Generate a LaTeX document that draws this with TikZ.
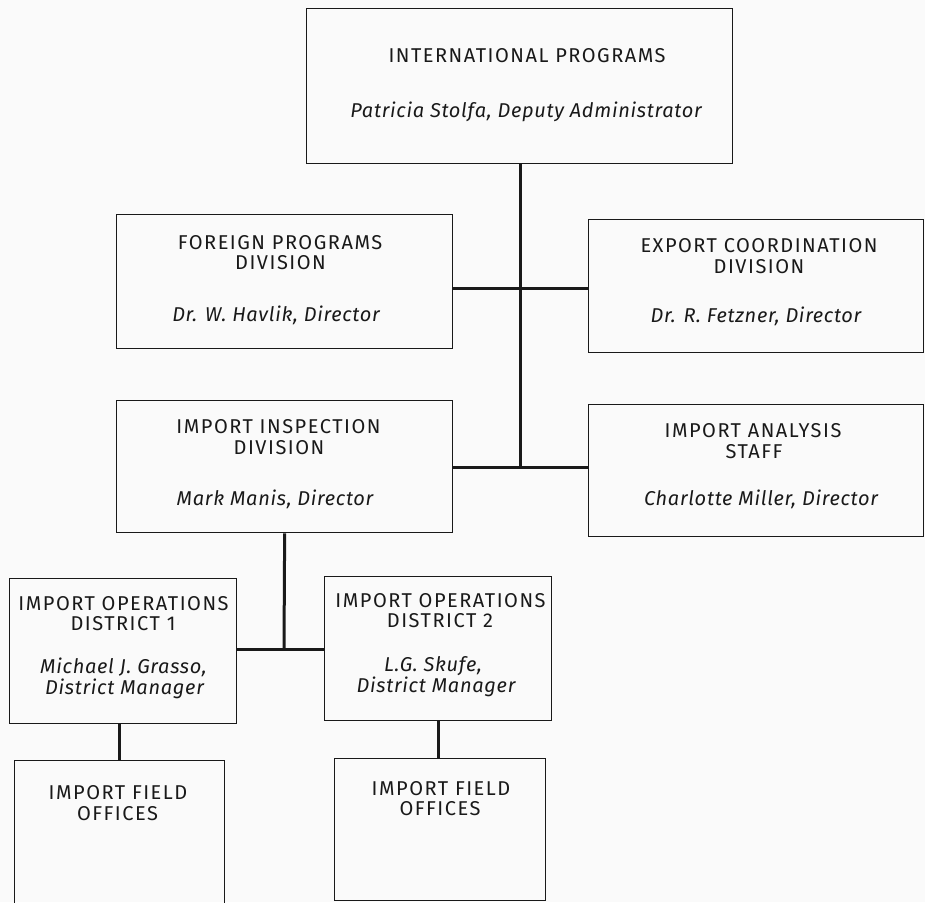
\documentclass[tikz,border=0pt]{standalone}
\usepackage{fontspec}
\setmainfont{Fira Sans}
% lightly tracked sans for headings and names
\newfontfamily\headfont[LetterSpace=7.5]{Fira Sans}
\newfontfamily\namefont[LetterSpace=3.5]{Fira Sans}
\begin{document}
\begin{tikzpicture}[x=1pt,y=-1pt,
  unit/.style={draw=black!90, line width=1.3pt, inner sep=0pt, anchor=north west},
  link/.style={draw=black!90, line width=3pt},
  caps/.style={anchor=base, font=\headfont\fontsize{20}{20}\selectfont, text=black!90, inner sep=0pt},
  who/.style={anchor=base, font=\namefont\itshape\fontsize{20}{20}\selectfont, text=black!90, inner sep=0pt}]
% page
\fill[black!2] (0,0) rectangle (925,902);
\useasboundingbox (0,0) rectangle (925,902);
% boxes
\node[unit, minimum width=426pt, minimum height=155pt] (ip) at (306,8) {};
\node[unit, minimum width=336pt, minimum height=134pt] (fp) at (116,214) {};
\node[unit, minimum width=335pt, minimum height=133pt] (ec) at (588,219) {};
\node[unit, minimum width=336pt, minimum height=132pt] (ii) at (116,400) {};
\node[unit, minimum width=335pt, minimum height=132pt] (ia) at (588,404) {};
\node[unit, minimum width=227pt, minimum height=145pt] (d1) at (9,578) {};
\node[unit, minimum width=227pt, minimum height=144pt] (d2) at (324,576) {};
\node[unit, minimum width=210pt, minimum height=160pt] (f1) at (14,760) {};
\node[unit, minimum width=211pt, minimum height=142pt] (f2) at (334,758) {};
% labels, one node per line, placed on their baselines
\node[caps] (ip1) at (527,62) {INTERNATIONAL PROGRAMS};
\node[who]  (ip2) at (526,117) {Patricia Stolfa, Deputy Administrator};
\node[caps] (fp1) at (280,249) {FOREIGN PROGRAMS};
\node[caps] (fp2) at (280.5,269.5) {DIVISION};
\node[who]  (fp3) at (276,321.5) {Dr. W. Havlik, Director};
\node[caps] (ec1) at (759,252.5) {EXPORT COORDINATION};
\node[caps] (ec2) at (759,273) {DIVISION};
\node[who]  (ec3) at (756,322.5) {Dr. R. Fetzner, Director};
\node[caps] (ii1) at (278.5,433.5) {IMPORT INSPECTION};
\node[caps] (ii2) at (279,454) {DIVISION};
\node[who]  (ii3) at (275,505) {Mark Manis, Director};
\node[caps] (ia1) at (753,437.5) {IMPORT ANALYSIS};
\node[caps] (ia2) at (754,458) {STAFF};
\node[who]  (ia3) at (761,505) {Charlotte Miller, Director};
\node[caps] (d11) at (123.5,610) {IMPORT OPERATIONS};
\node[caps] (d12) at (123,630) {DISTRICT 1};
\node[who]  (d13) at (123.5,673.5) {Michael J. Grasso,};
\node[who]  (d14) at (124.5,694) {District Manager};
\node[caps] (d21) at (440.5,607.5) {IMPORT OPERATIONS};
\node[caps] (d22) at (440,627.5) {DISTRICT 2};
\node[who]  (d23) at (433,671.5) {L.G. Skufe,};
\node[who]  (d24) at (436,692) {District Manager};
\node[caps] (f11) at (118,799.5) {IMPORT FIELD};
\node[caps] (f12) at (117.5,820) {OFFICES};
\node[caps] (f21) at (441,795) {IMPORT FIELD};
\node[caps] (f22) at (440,815.5) {OFFICES};
% junction points
\coordinate (j1) at (520,288);
\coordinate (j2) at (520,467);
\coordinate (j3) at (284,649);
% connectors
\draw[link] (ip.south -| j1) -- (j2);
\draw[link] (fp.east |- j1) -- (ec.west |- j1);
\draw[link] (ii.east |- j2) -- (ia.west |- j2);
\draw[link] (ii.south) -- (j3);
\draw[link] (d1.east |- j3) -- (d2.west |- j3);
\draw[link] (d1.south -| f1.north) -- (f1.north);
\draw[link] (d2.south) -- (f2.north -| d2.south);
\end{tikzpicture}
\end{document}
